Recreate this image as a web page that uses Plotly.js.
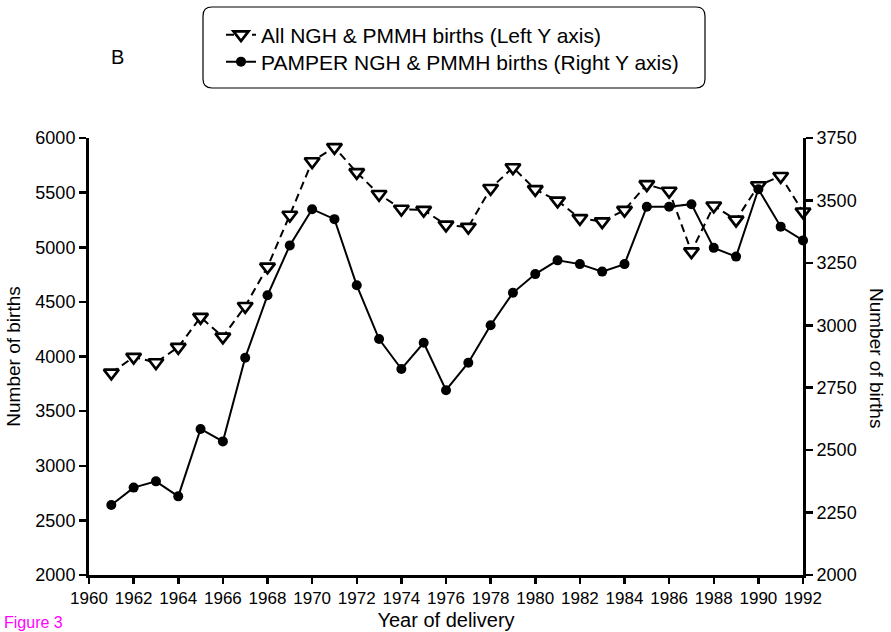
<!DOCTYPE html>
<html>
<head>
<meta charset="utf-8">
<script src="https://cdn.plot.ly/plotly-3.0.1.min.js"></script>
<style>html,body{margin:0;padding:0;background:#fff;}#chart{width:891px;height:632px;}</style>
</head>
<body>
<div id="chart"></div>
<script>
const years = [1961,1962,1963,1964,1965,1966,1967,1968,1969,1970,1971,1972,1973,1974,1975,1976,
               1977,1978,1979,1980,1981,1982,1983,1984,1985,1986,1987,1988,1989,1990,1991,1992];
const allBirths = [3850,3995,3945,4085,4360,4180,4460,4820,5295,5785,5915,5685,5485,5350,5340,5205,
                   5185,5540,5730,5530,5425,5265,5235,5340,5575,5515,4960,5380,5250,5565,5650,5325];
const pamperBirths = [2280,2350,2375,2315,2585,2535,2870,3120,3320,3465,3425,3160,2945,2825,2930,2740,
                      2850,3000,3130,3205,3260,3245,3215,3245,3475,3475,3485,3310,3275,3545,3395,3340];
const xTicks = [1960,1962,1964,1966,1968,1970,1972,1974,1976,1978,1980,1982,1984,1986,1988,1990,1992];
const leftTicks = [2000,2500,3000,3500,4000,4500,5000,5500,6000];
const rightTicks = [2000,2250,2500,2750,3000,3250,3500,3750];
const seriesNames = ['All NGH &amp; PMMH births (Left Y axis)', 'PAMPER NGH &amp; PMMH births (Right Y axis)'];

const FONT = 'Liberation Sans, Arial, Helvetica, sans-serif';
const W = 891, H = 632, L = 89, R = 88, T = 138, B = 57;
const pw = W - L - R, ph = H - T - B;
const px = v => (v - L) / pw;
const py = v => (H - B - v) / ph;

const traces = [
  {
    x: years, y: allBirths, name: seriesNames[0], type: 'scatter', mode: 'lines+markers',
    yaxis: 'y', cliponaxis: false, legend: 'legend',
    line: {color: '#000', width: 2, dash: '8px,5px'},
    marker: {symbol: 'triangle-down', size: 13, color: '#fff', line: {color: '#000', width: 2.7}}
  },
  {
    x: years, y: pamperBirths, name: seriesNames[1], type: 'scatter', mode: 'lines+markers',
    yaxis: 'y2', cliponaxis: false, legend: 'legend2',
    line: {color: '#000', width: 2},
    marker: {symbol: 'circle', size: 10, color: '#000'}
  }
];

// rounded legend box
const bx0 = px(203), bx1 = px(705), by0 = py(88), by1 = py(7);
const rx = 9 / pw, ry = 9 / ph;
const boxPath = `M ${bx0+rx},${by1} L ${bx1-rx},${by1} Q ${bx1},${by1} ${bx1},${by1-ry} L ${bx1},${by0+ry} Q ${bx1},${by0} ${bx1-rx},${by0} L ${bx0+rx},${by0} Q ${bx0},${by0} ${bx0},${by0+ry} L ${bx0},${by1-ry} Q ${bx0},${by1} ${bx0+rx},${by1} Z`;

const legendStyle = (yc) => ({
  x: px(221), y: py(yc), xanchor: 'left', yanchor: 'middle',
  bgcolor: 'rgba(0,0,0,0)', borderwidth: 0,
  font: {family: FONT, size: 21, color: '#000'},
  itemsizing: 'trace'
});

const layout = {
  width: W, height: H,
  margin: {l: L, r: R, t: T, b: B, pad: 0},
  paper_bgcolor: '#fff', plot_bgcolor: '#fff',
  font: {family: FONT, size: 18, color: '#000'},
  showlegend: true,
  legend: legendStyle(35),
  legend2: legendStyle(62),
  xaxis: {
    range: [1960, 1992], tickmode: 'array', tickvals: xTicks, ticktext: xTicks.map(String),
    showgrid: false, zeroline: false, showline: true, linecolor: '#000', linewidth: 3,
    ticks: 'outside', ticklen: 6, tickwidth: 2.5, tickcolor: '#000',
    tickfont: {family: FONT, size: 17},
    title: {text: 'Year of delivery', font: {family: FONT, size: 20}, standoff: 6},
    automargin: false
  },
  yaxis: {
    range: [2000, 6000], tickmode: 'array', tickvals: leftTicks, ticktext: leftTicks.map(String),
    showgrid: false, zeroline: false, showline: true, linecolor: '#000', linewidth: 3,
    ticks: 'outside', ticklen: 7, tickwidth: 2.5, tickcolor: '#000',
    tickfont: {family: FONT, size: 18},
    title: {text: 'Number of births', font: {family: FONT, size: 19}, standoff: 10},
    automargin: false
  },
  yaxis2: {
    range: [2000, 3750], overlaying: 'y', side: 'right', anchor: 'x',
    tickmode: 'array', tickvals: rightTicks, ticktext: rightTicks.map(String),
    showgrid: false, zeroline: false, showline: true, linecolor: '#000', linewidth: 3,
    ticks: 'outside', ticklen: 7, tickwidth: 2.5, tickcolor: '#000',
    tickfont: {family: FONT, size: 18},
    automargin: false
  },
  shapes: [
    {type: 'path', xref: 'paper', yref: 'paper', path: boxPath, line: {color: '#000', width: 1.2}, fillcolor: 'rgba(0,0,0,0)'}
  ],
  annotations: [
    {text: 'Number of births', xref: 'paper', yref: 'paper', x: px(877), y: py(358), textangle: 90,
     showarrow: false, xanchor: 'center', yanchor: 'middle', font: {family: FONT, size: 19}},
    {text: 'B', xref: 'paper', yref: 'paper', x: px(117), y: py(57), showarrow: false,
     xanchor: 'center', yanchor: 'middle', font: {family: FONT, size: 20}},
    {text: 'Figure 3', xref: 'paper', yref: 'paper', x: px(2), y: py(622), showarrow: false,
     xanchor: 'left', yanchor: 'middle', font: {family: FONT, size: 16, color: '#ff00ff'}}
  ]
};

Plotly.newPlot('chart', traces, layout, {displayModeBar: false, staticPlot: true});
</script>
</body>
</html>
